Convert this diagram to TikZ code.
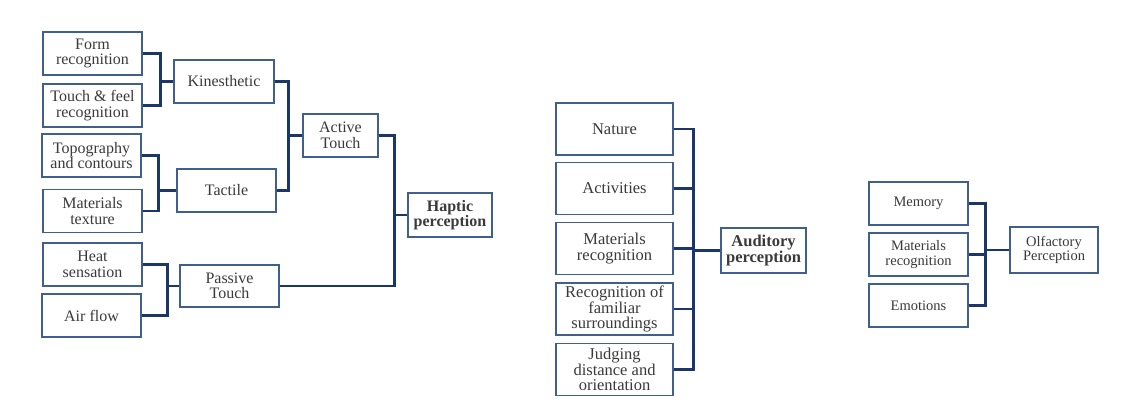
\documentclass[tikz,border=0pt]{standalone}
\usepackage{fontspec}
\setmainfont{Liberation Serif}
\definecolor{linknavy}{HTML}{1B3668}
\definecolor{boxblue}{HTML}{3F5F8F}
\definecolor{txtgray}{HTML}{3A3A3A}
\tikzset{
  box/.style={draw=boxblue, line width=1.3pt, fill=white, text=txtgray, align=center,
    inner sep=0pt, minimum width=99, minimum height=43,
    font=\fontsize{16}{15.5}\selectfont},
  audbox/.style={box, minimum width=117, minimum height=52,
    font=\fontsize{16.5}{15.8}\selectfont},
  olfbox/.style={box, font=\fontsize{14.5}{14.5}\selectfont},
  link/.style={draw=linknavy, line width=2.6pt}
}
\begin{document}
\begin{tikzpicture}[x=1pt,y=-1pt]
\useasboundingbox (0,0) rectangle (1125,410);

% Haptic perception
\node[box] (form) at (92.5,53.5) {Form\\recognition};
\node[box] (touch) at (92.5,105.5) {Touch \& feel\\recognition};
\node[box] (topo) at (91.5,155.5) {Topography\\and contours};
\node[box] (texture) at (92.5,211) {Materials\\texture};
\node[box] (heat) at (92.5,264.5) {Heat\\sensation};
\node[box] (air) at (91.5,315.5) {Air flow};
\node[box, minimum width=100] (kin) at (224,81.5) {Kinesthetic};
\node[box] (tactile) at (226.5,190.5) {Tactile};
\node[box, minimum width=75] (active) at (340.5,135.5) {Active\\Touch};
\node[box, minimum height=42] (passive) at (229.5,286) {Passive\\Touch};
\node[box, minimum width=84, minimum height=44, font=\fontsize{16}{15.5}\selectfont\bfseries] (haptic) at (450,215) {Haptic\\perception};

\draw[link] (form.east) -- ++(18,0) |- (kin.west);
\draw[link] (touch.east) -- ++(18,0) |- (kin.west);
\draw[link] (topo.east) -- ++(17,0) |- (tactile.west);
\draw[link] (texture.east) -- ++(16,0) |- (tactile.west);
\draw[link] (heat.east) -- ++(25,0) |- (passive.west);
\draw[link] (air.east) -- ++(26,0) |- (passive.west);
\draw[link] (kin.east) -- ++(14,0) |- (active.west);
\draw[link] (tactile.east) -- ++(12,0) |- (active.west);
\draw[link] (active.east) -- ++(16,0) |- (haptic.west);
\draw[link] (passive.east) -- ++(115,0) |- (haptic.west);

% Auditory perception
\node[audbox] (nature) at (614.5,129) {Nature};
\node[audbox] (activities) at (614.5,188.5) {Activities};
\node[audbox] (audmat) at (614.5,248.5) {Materials\\recognition};
\node[audbox] (familiar) at (614.5,309) {Recognition of\\familiar\\surroundings};
\node[audbox] (judging) at (614.5,369.5) {Judging\\distance and\\orientation};
\node[box, minimum width=85, minimum height=45, font=\fontsize{16.5}{15.8}\selectfont\bfseries] (auditory) at (763.5,250.5) {Auditory\\perception};

\foreach \n in {nature,activities,audmat,familiar,judging}
  \draw[link] (\n.east) -- ++(20,0) |- (auditory.west);

% Olfactory perception
\node[olfbox] (memory) at (918.5,203.5) {Memory};
\node[olfbox] (olfmat) at (918.5,254.5) {Materials\\recognition};
\node[olfbox] (emotions) at (918.5,305.5) {Emotions};
\node[olfbox, minimum width=88, minimum height=46] (olfactory) at (1054,250) {Olfactory\\Perception};

\foreach \n in {memory,olfmat,emotions}
  \draw[link] (\n.east) -- ++(17,0) |- (olfactory.west);
\end{tikzpicture}
\end{document}
